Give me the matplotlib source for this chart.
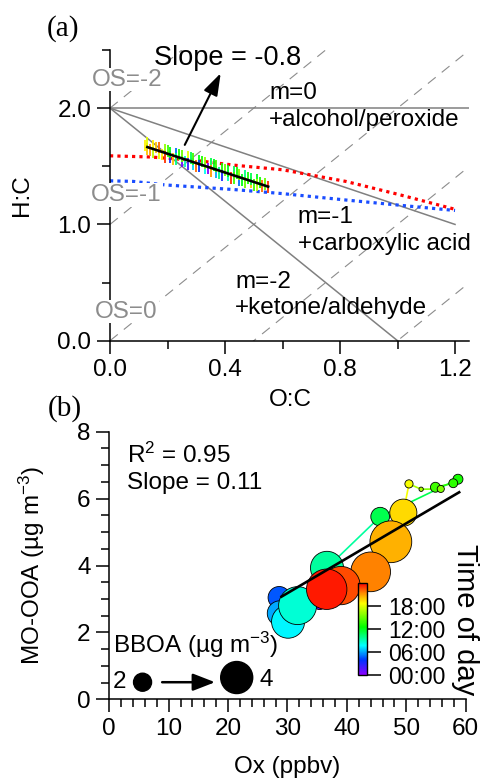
import matplotlib
matplotlib.use('Agg')
import matplotlib.pyplot as plt
import numpy as np
from matplotlib.colors import LinearSegmentedColormap, Normalize
from matplotlib.collections import LineCollection
from matplotlib.cm import ScalarMappable
from matplotlib.ticker import MultipleLocator

plt.rcParams['font.family'] = ['Liberation Sans', 'DejaVu Sans']
plt.rcParams['mathtext.default'] = 'regular'

# ---- panel (a): Van Krevelen diagram ----
oc_pts = [0.12, 0.13, 0.13, 0.14, 0.15, 0.15, 0.16, 0.17, 0.17, 0.18, 0.19, 0.19, 0.20, 0.21, 0.21, 0.22,
          0.23, 0.23, 0.24, 0.25, 0.25, 0.26, 0.27, 0.27, 0.28, 0.29, 0.29, 0.30, 0.31, 0.31, 0.32, 0.33,
          0.33, 0.34, 0.35, 0.35, 0.36, 0.37, 0.37, 0.38, 0.39, 0.39, 0.40, 0.41, 0.41, 0.42, 0.43, 0.43,
          0.44, 0.45, 0.45, 0.46, 0.47, 0.47, 0.48, 0.49, 0.49, 0.50, 0.51, 0.51, 0.52, 0.53, 0.54, 0.55]
hc_pts = [1.68, 1.65, 1.70, 1.64, 1.68, 1.62, 1.66, 1.61, 1.66, 1.60, 1.64, 1.58, 1.63, 1.58, 1.62, 1.56,
          1.61, 1.56, 1.60, 1.54, 1.59, 1.54, 1.58, 1.52, 1.57, 1.52, 1.56, 1.50, 1.55, 1.50, 1.54, 1.48,
          1.53, 1.48, 1.52, 1.46, 1.51, 1.45, 1.50, 1.44, 1.48, 1.42, 1.47, 1.42, 1.46, 1.40, 1.45, 1.40,
          1.44, 1.38, 1.43, 1.38, 1.42, 1.36, 1.40, 1.36, 1.39, 1.34, 1.38, 1.34, 1.36, 1.33, 1.35, 1.32]
hr_pts = [19, 20, 18, 21, 19, 17, 20, 18, 22, 19, 16, 23, 14, 3, 12, 20,
          5, 10, 13, 1, 15, 9, 18, 2, 11, 7, 14, 22, 12, 4, 13, 8,
          16, 0, 11, 21, 12, 6, 14, 10, 13, 3, 15, 9, 12, 23, 11, 14,
          13, 5, 16, 12, 10, 15, 13, 20, 11, 14, 12, 17, 13, 22, 15, 23]
fit_oc = [0.13, 0.55]
fit_hc = [1.665, 1.325]

red_oc = [0.0, 0.14, 0.30, 0.43, 0.60, 0.82, 1.00, 1.20]
red_hc = [1.59, 1.58, 1.55, 1.51, 1.47, 1.37, 1.26, 1.13]
blue_oc = [0.0, 0.08, 0.19, 0.43, 0.60, 0.82, 1.05, 1.20]
blue_hc = [1.375, 1.37, 1.34, 1.30, 1.265, 1.21, 1.155, 1.12]

os_vals = [-2, -1, 0, 1, 2]
m_end_oc = [1.25, 1.2, 1.0]
m_end_hc = [2.0, 1.0, 0.0]

# ---- panel (b): MO-OOA vs Ox, diurnal ----
hour = [0.5, 4.5, 6.0, 7.5, 8.5, 9.5, 11.0, 13.0, 13.5, 14.0, 15.5, 16.5, 18.5, 19.5, 20.5, 21.5, 22.5, 23.5]
ox = [35.4, 28.6, 28.7, 30.1, 31.7, 36.65, 45.6, 58.7, 57.9, 54.9, 55.8, 52.5, 50.45, 49.5, 47.4, 44.0, 39.0, 36.6]
moooa = [2.9, 3.04, 2.57, 2.32, 2.80, 3.93, 5.46, 6.58, 6.46, 6.34, 6.29, 6.28, 6.44, 5.58, 4.71, 3.81, 3.40, 3.29]
bboa = [1.5, 2.6, 3.0, 4.15, 4.85, 4.15, 2.1, 0.85, 0.7, 0.85, 0.45, 0.05, 0.6, 3.3, 5.4, 5.1, 4.9, 5.2]
ox_fit = [29.0, 58.9]
mo_fit = [3.07, 6.19]
leg_bboa = [2, 4]
leg_ox = [5.6, 21.45]
leg_mo = [0.51, 0.65]

cb_ticks = [0, 6, 12, 18]
cb_labels = ['00:00', '06:00', '12:00', '18:00']

cmap = LinearSegmentedColormap.from_list('tod', [
    (0.00, (0.55, 0.0, 1.0)),
    (0.16, (0.0, 0.2, 1.0)),
    (0.32, (0.0, 1.0, 1.0)),
    (0.52, (0.0, 1.0, 0.0)),
    (0.78, (1.0, 1.0, 0.0)),
    (0.89, (1.0, 0.55, 0.0)),
    (1.00, (1.0, 0.0, 0.0))])
norm = Normalize(0, 24)

FS = 17.5


def marker_area(b):
    # marker diameter in pixels grows with BBOA, converted to points^2
    d = 4 + 7 * np.asarray(b, dtype=float)
    return (d * 0.72) ** 2


fig = plt.figure(figsize=(4.81, 7.80), dpi=100)
ax1 = fig.add_axes([0.2287, 0.5632, 0.7472, 0.3727])
ax2 = fig.add_axes([0.2272, 0.1035, 0.7410, 0.3430])

for ax in (ax1, ax2):
    ax.spines[['top', 'right']].set_visible(False)
    ax.spines[['left', 'bottom']].set_linewidth(1.1)
    ax.tick_params(which='major', direction='out', length=9.4, width=1.1, labelsize=FS, pad=4)
    ax.tick_params(which='minor', direction='out', length=5.5, width=1.1)

grey = '#8c8c8c'

# panel (a)
ax1.set_xlim(0, 1.25)
ax1.set_ylim(0, 2.5)
ax1.xaxis.set_major_locator(MultipleLocator(0.4))
ax1.xaxis.set_minor_locator(MultipleLocator(0.2))
ax1.yaxis.set_major_locator(MultipleLocator(1.0))
ax1.yaxis.set_minor_locator(MultipleLocator(0.5))
ax1.xaxis.set_major_formatter('{x:.1f}')
ax1.yaxis.set_major_formatter('{x:.1f}')

oc_edge = np.array([0.0, 1.25])
for os_v in os_vals:
    ax1.plot(oc_edge, 2 * oc_edge - os_v, color=grey, lw=0.8, ls=(0, (9, 7)), zorder=1)
for e_oc, e_hc in zip(m_end_oc, m_end_hc):
    ax1.plot([0, e_oc], [2.0, e_hc], color='#808080', lw=1.1, zorder=1)

ax1.plot(red_oc, red_hc, color='#ff0000', lw=2.3, ls=(0, (1, 1.3)), zorder=2)
ax1.plot(blue_oc, blue_hc, color='#1a4dff', lw=2.3, ls=(0, (1, 1.3)), zorder=2)

ax1.scatter(oc_pts, hc_pts, c=hr_pts, cmap=cmap, norm=norm, marker='|', s=70, linewidths=1.3, zorder=3)
ax1.plot(fit_oc, fit_hc, color='k', lw=1.9, zorder=4)

ax1.annotate('', xy=(0.385, 2.30), xytext=(0.26, 1.684),
             arrowprops=dict(arrowstyle='-|>,head_length=0.9,head_width=0.3', color='k', lw=1.5,
                             mutation_scale=15, shrinkA=0, shrinkB=0), zorder=5)
ax1.text(0.41, 2.43, 'Slope = -0.8', fontsize=19.5, ha='center', va='center')

for lbl, x, y in [('OS=-2', 0.0615, 2.244), ('OS=-1', 0.058, 1.254), ('OS=0', 0.058, 0.25)]:
    ax1.text(x, y, lbl, color=grey, fontsize=FS, ha='center', va='center', zorder=6, clip_on=False,
             bbox=dict(facecolor='white', edgecolor='none', pad=0.5))

ax1.text(0.554, 2.134, 'm=0', fontsize=FS, va='center')
ax1.text(0.554, 1.90, '+alcohol/peroxide', fontsize=FS, va='center')
ax1.text(0.653, 1.062, 'm=-1', fontsize=FS, va='center')
ax1.text(0.653, 0.832, '+carboxylic acid', fontsize=FS, va='center')
ax1.text(0.435, 0.508, 'm=-2', fontsize=FS, va='center')
ax1.text(0.435, 0.279, '+ketone/aldehyde', fontsize=FS, va='center')

ax1.set_xlabel('O:C', fontsize=FS, va='center')
ax1.xaxis.set_label_coords(0.501, -0.204)
ax1.set_ylabel('H:C', fontsize=FS, va='center', ha='center')
ax1.yaxis.set_label_coords(-0.2457, 0.5)

# panel (b)
ax2.set_xlim(0, 60)
ax2.set_ylim(0, 8)
ax2.xaxis.set_major_locator(MultipleLocator(10))
ax2.xaxis.set_minor_locator(MultipleLocator(2))
ax2.yaxis.set_major_locator(MultipleLocator(2))
ax2.yaxis.set_minor_locator(MultipleLocator(0.5))

pts = np.column_stack([ox, moooa])
segs = np.stack([pts[:-1], pts[1:]], axis=1)
lc = LineCollection(segs, colors=cmap(norm(np.array(hour[:-1]))), linewidths=1.2, zorder=2)
ax2.add_collection(lc)
ax2.scatter(ox, moooa, s=marker_area(bboa), c=hour, cmap=cmap, norm=norm,
            edgecolors='k', linewidths=0.6, zorder=3)
ax2.plot(ox_fit, mo_fit, color='k', lw=1.9, zorder=4)

ax2.text(3.0, 7.3, 'R$^2$ = 0.95', fontsize=FS, va='center')
ax2.text(3.0, 6.47, 'Slope = 0.11', fontsize=FS, va='center')

ax2.text(0.68, 1.62, 'BBOA (µg m$^{-3}$)', fontsize=FS, va='center')
ax2.scatter(leg_ox, leg_mo, s=marker_area(leg_bboa), color='k', zorder=3)
ax2.text(1.7, 0.51, '2', fontsize=FS, ha='center', va='center')
ax2.text(26.5, 0.58, '4', fontsize=FS, ha='center', va='center')
ax2.annotate('', xy=(17.8, 0.51), xytext=(8.9, 0.51),
             arrowprops=dict(arrowstyle='-|>,head_length=0.9,head_width=0.35', color='k', lw=1.8,
                             mutation_scale=15, shrinkA=0, shrinkB=0))

ax2.set_xlabel('Ox (ppbv)', fontsize=FS, va='center')
ax2.xaxis.set_label_coords(0.498, -0.252)
ax2.set_ylabel('MO-OOA (µg m$^{-3}$)', fontsize=FS, va='center', ha='center')
ax2.yaxis.set_label_coords(-0.2177, 0.5)

# colour bar for time of day
cax = fig.add_axes([358 / 481, 1 - 675 / 780, 9 / 481, 92 / 780])
sm = ScalarMappable(norm=norm, cmap=cmap)
cb = fig.colorbar(sm, cax=cax, ticks=cb_ticks)
cb.ax.set_yticklabels(cb_labels)
cb.ax.tick_params(length=10, width=1.1, labelsize=16.5, pad=5)
cb.outline.set_linewidth(1.0)
fig.text(465 / 481, 1 - 620 / 780, 'Time of day', fontsize=21, rotation=270, ha='center', va='center')

fig.text(63 / 481, 1 - 29 / 780, '(a)', fontsize=21, family='Liberation Serif', ha='center', va='center')
fig.text(65 / 481, 1 - 409 / 780, '(b)', fontsize=21, family='Liberation Serif', ha='center', va='center')

fig.savefig('out.png', dpi=100)
